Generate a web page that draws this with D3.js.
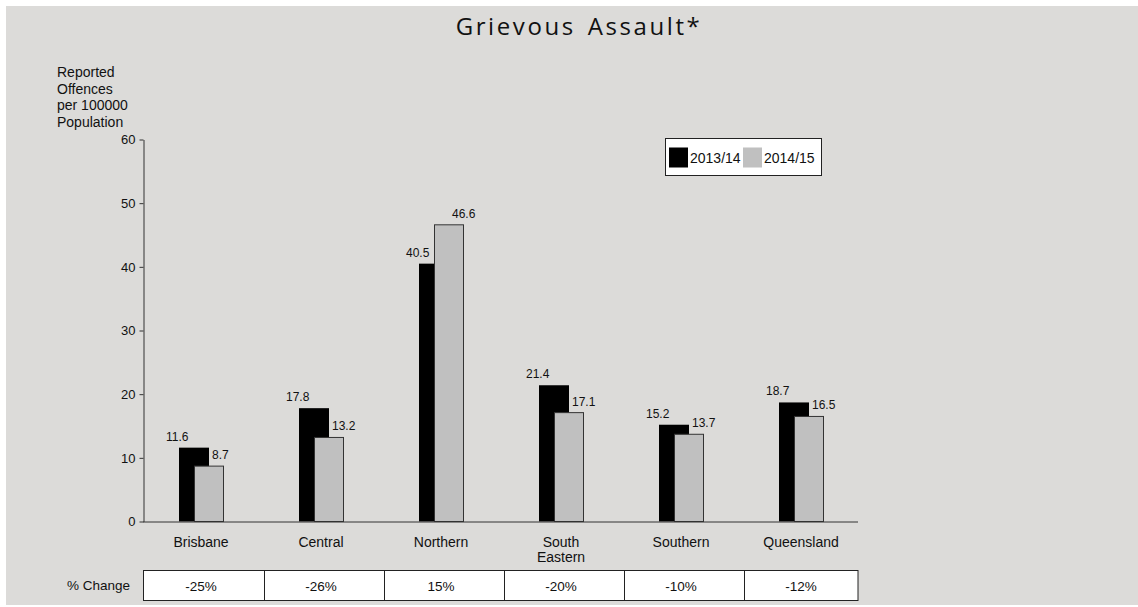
<html>
<head>
    <meta charset="utf-8">
    <title>Grievous Assault</title>
    <script src="https://cdn.jsdelivr.net/npm/d3@7"></script>
</head>
<style>
    html, body { margin: 0; padding: 0; background: #fff; }
    svg text { font-family: "Liberation Sans", Arial, sans-serif; fill: #111; }
    .title { font-family: "Open Sans", sans-serif; font-size: 24px; letter-spacing: 2.6px; word-spacing: 3px; }
</style>
<body>
<svg width="1138" height="607" id="mainsvg"></svg>
<script>
    // data
    const categories = ["Brisbane", "Central", "Northern", "South Eastern", "Southern", "Queensland"];
    const v1314 = [11.6, 17.8, 40.5, 21.4, 15.2, 18.7];
    const v1415 = [8.7, 13.2, 46.6, 17.1, 13.7, 16.5];
    const pctChange = ["-25%", "-26%", "15%", "-20%", "-10%", "-12%"];
    const seriesNames = ["2013/14", "2014/15"];
    const yTicks = [0, 10, 20, 30, 40, 50, 60];
    const yLabel = ["Reported", "Offences", "per 100000", "Population"];

    const svg = d3.select('svg');
    const width = +svg.attr('width');
    const height = +svg.attr('height');
    const bg = '#dcdbd9';
    const gray = '#c0c0c0';

    svg.append('rect').attr('x', 6).attr('y', 6)
        .attr('width', width - 6).attr('height', 599).attr('fill', bg);

    const xScale = d3.scaleBand().domain(categories).range([143, 863]);
    const yScale = d3.scaleLinear().domain([0, 60]).range([521.5, 139.5]);
    const axisEnd = 858;

    // title
    svg.append('text').attr('class', 'title')
        .attr('x', 579).attr('y', 35).attr('text-anchor', 'middle')
        .text('Grievous Assault*');

    // y label
    svg.append('text').attr('font-size', 14)
        .selectAll('tspan').data(yLabel).join('tspan')
        .attr('x', 57).attr('y', (d, i) => 77 + i * 16.7)
        .text(d => d);

    // bars
    const rows = categories.map((c, i) => ({c, a: v1314[i], b: v1415[i], p: pctChange[i]}));
    const g = svg.append('g');
    g.selectAll('rect.a').data(rows).join('rect').attr('class', 'a')
        .attr('x', d => xScale(d.c) + 36).attr('width', 30)
        .attr('y', d => yScale(d.a)).attr('height', d => yScale(0) - yScale(d.a))
        .attr('fill', '#000');
    g.selectAll('rect.b').data(rows).join('rect').attr('class', 'b')
        .attr('x', d => xScale(d.c) + 51.5).attr('width', 29)
        .attr('y', d => yScale(d.b)).attr('height', d => yScale(0) - yScale(d.b))
        .attr('fill', gray).attr('stroke', '#333').attr('stroke-width', 1);

    // value labels
    g.selectAll('text.la').data(rows).join('text').attr('class', 'la')
        .attr('x', d => xScale(d.c) + 23).attr('y', d => yScale(d.a) - 7)
        .attr('font-size', 12).text(d => d.a.toFixed(1));
    g.selectAll('text.lb').data(rows).join('text').attr('class', 'lb')
        .attr('x', d => xScale(d.c) + 69).attr('y', d => yScale(d.b) - 7)
        .attr('font-size', 12).text(d => d.b.toFixed(1));

    // y axis
    const yAxis = svg.append('g').attr('transform', 'translate(143.5,0)')
        .call(d3.axisLeft(yScale).tickValues(yTicks).tickSize(4).tickSizeOuter(0).tickPadding(4));
    yAxis.selectAll('text').attr('font-size', 13).attr('font-family', null).attr('fill', '#111');
    yAxis.selectAll('line,path').attr('stroke', '#333');

    // x axis
    const xAxis = svg.append('g').attr('transform', `translate(0,${yScale(0)})`)
        .call(d3.axisBottom(xScale).tickSize(0).tickPadding(0).tickSizeOuter(0));
    xAxis.select('.domain').attr('d', `M143,0.5H${axisEnd}`).attr('stroke', '#333');
    xAxis.selectAll('.tick').attr('transform', d => `translate(${xScale(d) + xScale.bandwidth() / 2 - 2},0)`);
    xAxis.selectAll('.tick text').attr('font-size', 14).attr('font-family', null).attr('fill', '#111')
        .attr('y', 0).attr('dy', null).text(null)
        .each(function (d) {
            d3.select(this).selectAll('tspan').data(d.split(' ')).join('tspan')
                .attr('x', 0).attr('y', (w, i) => 25.5 + i * 15).text(w => w);
        });

    // % change table
    const tTop = 570.5, tBot = 600.5;
    const table = svg.append('g');
    const cellEdges = categories.map(c => xScale(c) + 1.5);
    table.append('rect').attr('x', 143.5).attr('y', tTop)
        .attr('width', axisEnd - 143.5).attr('height', tBot - tTop)
        .attr('fill', '#fff').attr('stroke', '#222');
    table.selectAll('line').data(cellEdges.slice(1)).join('line')
        .attr('x1', d => d).attr('x2', d => d).attr('y1', tTop).attr('y2', tBot)
        .attr('stroke', '#222');
    table.selectAll('text').data(rows).join('text')
        .attr('x', d => xScale(d.c) + xScale.bandwidth() / 2 - 2).attr('y', 591)
        .attr('text-anchor', 'middle').attr('font-size', 13.5).text(d => d.p);
    svg.append('text').attr('x', 130).attr('y', 590).attr('text-anchor', 'end')
        .attr('font-size', 13.5).text('% Change');

    // legend
    const legend = svg.append('g');
    legend.append('rect').attr('x', 665.5).attr('y', 138.5).attr('width', 156).attr('height', 37)
        .attr('fill', '#fff').attr('stroke', '#222');
    const legX = [669, 743];
    const legColors = ['#000', gray];
    legend.selectAll('rect.sw').data(seriesNames).join('rect').attr('class', 'sw')
        .attr('x', (d, i) => legX[i]).attr('y', 147.5).attr('width', 19).attr('height', 20)
        .attr('fill', (d, i) => legColors[i]);
    legend.selectAll('text').data(seriesNames).join('text')
        .attr('x', (d, i) => legX[i] + 21).attr('y', 163).attr('font-size', 14)
        .text(d => d);
</script>
</body>
</html>
